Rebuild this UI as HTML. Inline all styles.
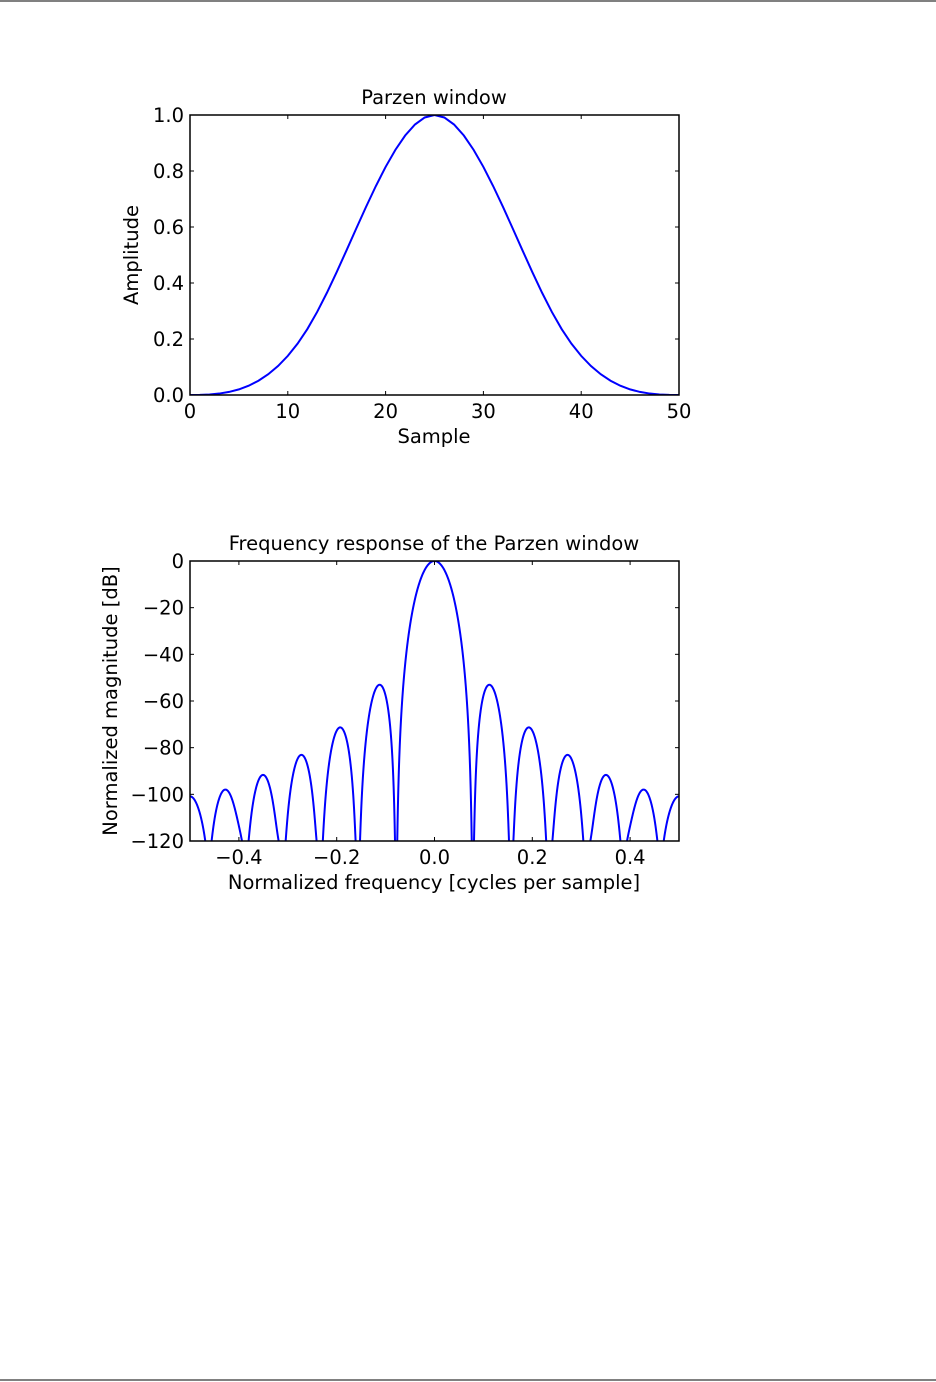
<!DOCTYPE html>
<html><head><meta charset="utf-8"><style>
html,body{margin:0;padding:0;background:#fff;}
svg{display:block;}
text{font-family:"DejaVu Sans","Liberation Sans",sans-serif;font-size:19.5px;fill:#000;}
</style></head><body>
<svg id="s" width="936" height="1382" xmlns="http://www.w3.org/2000/svg">
<line x1="0" y1="1" x2="936" y2="1" stroke="#000" stroke-width="1"/>
<line x1="0" y1="1380" x2="936" y2="1380" stroke="#000" stroke-width="1"/>
<defs>
<clipPath id="c1"><rect x="190" y="115" width="489" height="280"/></clipPath>
<clipPath id="c2"><rect x="190" y="561" width="489" height="280"/></clipPath>
</defs>
<g id="g"></g>
</svg>
<script>
var g=document.getElementById('g'),h='';
var N=51,w=[];
for(var i=0;i<N;i++){var n=Math.abs(i-25),r=n/(N/2);w.push(n<=N/4?1-6*r*r+6*r*r*r:2*Math.pow(1-r,3));}
function ax(x0,y0,W,H){return '<rect x="'+x0+'" y="'+y0+'" width="'+W+'" height="'+H+'" fill="none" stroke="#000" stroke-width="1.5"/>';}
var p='';for(var i=0;i<N;i++){p+=(i?'L':'M')+(190+i*489/50).toFixed(2)+','+(395-w[i]*280).toFixed(2);}
h+='<path d="'+p+'" fill="none" stroke="#0000ff" stroke-width="2" clip-path="url(#c1)"/>';
h+=ax(190,115,489,280);
for(var k=0;k<=5;k++){var x=190+k*97.8;h+='<line x1="'+x+'" y1="395" x2="'+x+'" y2="391" stroke="#000"/><line x1="'+x+'" y1="115" x2="'+x+'" y2="119" stroke="#000"/><text x="'+x+'" y="418" text-anchor="middle">'+(k*10)+'</text>';}
for(var k=0;k<=5;k++){var y=395-k*56;h+='<line x1="190" y1="'+y+'" x2="194" y2="'+y+'" stroke="#000"/><line x1="679" y1="'+y+'" x2="675" y2="'+y+'" stroke="#000"/><text x="184" y="'+(y+7)+'" text-anchor="end">'+(k*0.2).toFixed(1)+'</text>';}
h+='<text x="434" y="104" text-anchor="middle">Parzen window</text><text x="434" y="443" text-anchor="middle">Sample</text><text transform="translate(138,255) rotate(-90)" text-anchor="middle">Amplitude</text>';
var M=2000,q='',first=true;var sw=0;for(var i=0;i<N;i++)sw+=w[i];
for(var j=0;j<=M;j++){var f=-0.5+j/M,re=0,im=0;for(var i=0;i<N;i++){var a=2*Math.PI*f*i;re+=w[i]*Math.cos(a);im-=w[i]*Math.sin(a);}
var m=Math.sqrt(re*re+im*im)/sw;var db=20*Math.log10(Math.max(m,1e-12));if(db<-130)db=-130;
q+=(first?'M':'L')+(190+(f+0.5)*489).toFixed(2)+','+(561-db/120*280).toFixed(2);first=false;}
h+='<path d="'+q+'" fill="none" stroke="#0000ff" stroke-width="2" clip-path="url(#c2)"/>';
h+=ax(190,561,489,280);
var xl=['\u22120.4','\u22120.2','0.0','0.2','0.4'];
for(var k=0;k<5;k++){var x=190+(k*0.2+0.1)*489;h+='<line x1="'+x+'" y1="841" x2="'+x+'" y2="837" stroke="#000"/><line x1="'+x+'" y1="561" x2="'+x+'" y2="565" stroke="#000"/><text x="'+x+'" y="864" text-anchor="middle">'+xl[k]+'</text>';}
for(var k=0;k<=6;k++){var y=561+k*280/6;h+='<line x1="190" y1="'+y+'" x2="194" y2="'+y+'" stroke="#000"/><line x1="679" y1="'+y+'" x2="675" y2="'+y+'" stroke="#000"/><text x="184" y="'+(y+7)+'" text-anchor="end">'+(k?'\u2212'+k*20:'0')+'</text>';}
h+='<text x="434" y="550" text-anchor="middle">Frequency response of the Parzen window</text><text x="434" y="889" text-anchor="middle">Normalized frequency [cycles per sample]</text><text transform="translate(117,701) rotate(-90)" text-anchor="middle">Normalized magnitude [dB]</text>';
g.innerHTML=h;
</script>
</body></html>
